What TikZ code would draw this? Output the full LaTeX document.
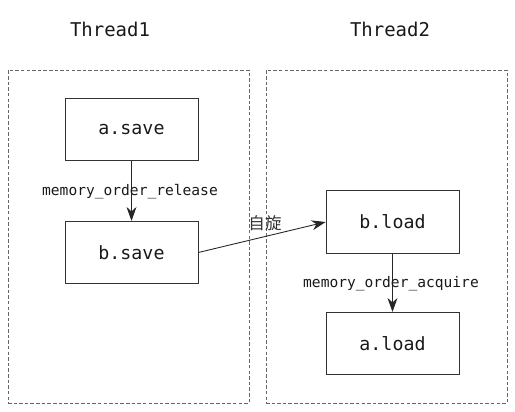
\documentclass[tikz,border=0pt]{standalone}
\usepackage{fontspec}
\setmonofont{DejaVu Sans Mono}
\newfontfamily\cjk{Noto Sans CJK SC}
\usetikzlibrary{arrows.meta}

\begin{document}
\begin{tikzpicture}
			\tikzset{bloc/.style={rectangle, draw=black!80, text centered, minimum width=2.66cm, minimum height=1.25cm, inner sep=0pt, font=\ttfamily\fontsize{10.4}{12}\selectfont, text=black!90},
			cadre/.style={draw=black!60, dashed, dash pattern=on 2pt off 1.2pt, line width=0.4pt},
			titre/.style={font=\ttfamily\fontsize{10.8}{12}\selectfont, text=black!90},
			etiquette/.style={font=\ttfamily\fontsize{8.3}{10}\selectfont, text=black!90, inner sep=1pt},
			fleche/.style={draw=black!85, line width=0.5pt, -{Stealth[length=2.8mm, width=2mm]}}};

			\useasboundingbox (0, 0) rectangle (10.3, 8.22);

			\node[cadre, minimum width=4.82cm, minimum height=6.66cm] (g) at (2.57, 3.49) {};
			\node[cadre, minimum width=4.82cm, minimum height=6.66cm] (d) at (7.73, 3.49) {};

			\node[titre] (t1) at (2.2, 7.64) {Thread1};
			\node[titre] (t2) at (7.8, 7.64) {Thread2};

			\node[bloc] (as) at (2.63, 5.63) {a.save};
			\node[bloc] (bs) at (2.63, 3.17) {b.save};
			\node[bloc] (bl) at (7.85, 3.78) {b.load};
			\node[bloc] (al) at (7.85, 1.35) {a.load};

			\draw[fleche] (as) to (bs);
			\draw[fleche] (bl) to (al);
			\draw[fleche] (bs.east) to (bl.west);

			\node[etiquette] (r) at (2.6, 4.38) {memory\_order\_release};
			\node[etiquette] (a) at (7.82, 2.54) {memory\_order\_acquire};
			\node[font=\cjk\fontsize{9.4}{11}\selectfont, text=black!80] (s) at (5.3, 3.76) {自旋};
		\end{tikzpicture}
\end{document}
